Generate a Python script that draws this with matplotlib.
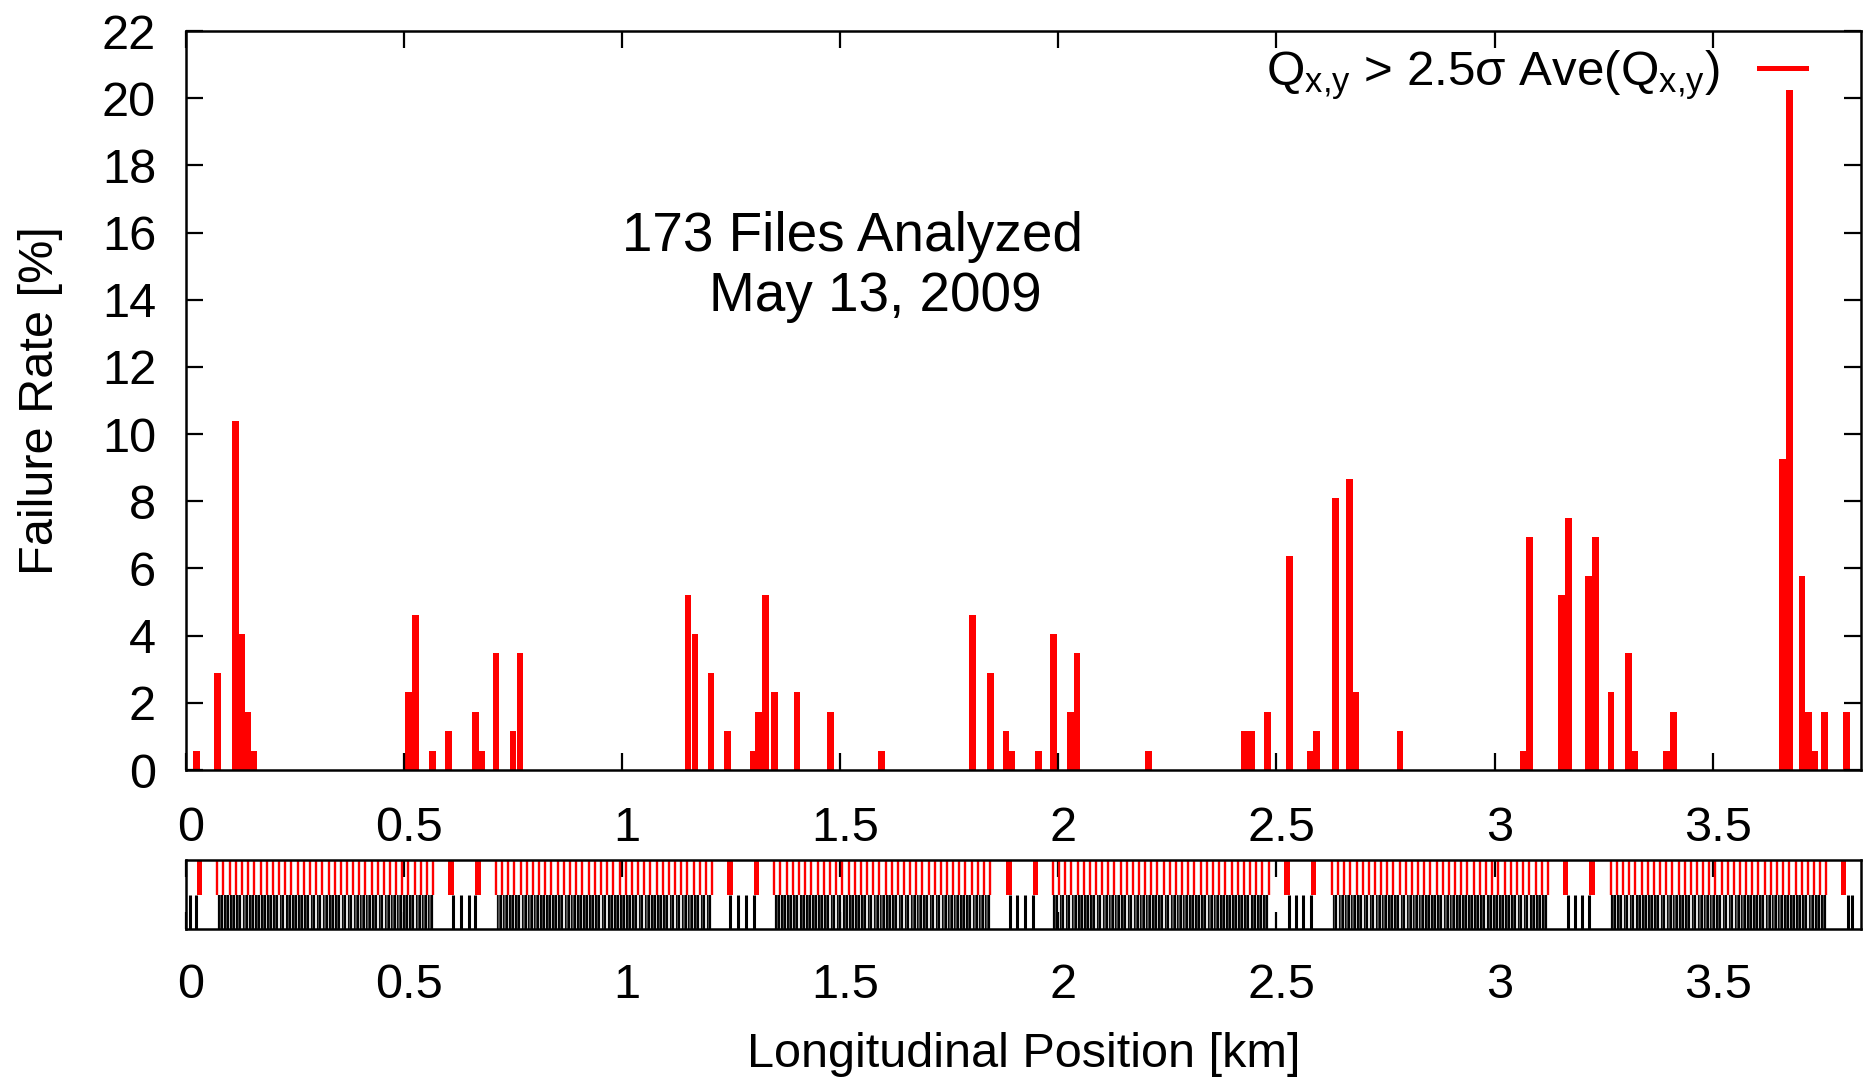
import matplotlib.pyplot as plt
from matplotlib.lines import Line2D
from matplotlib.transforms import ScaledTranslation

plt.rcParams['font.family'] = ['Liberation Sans', 'DejaVu Sans']
plt.rcParams['mathtext.fontset'] = 'custom'
plt.rcParams['mathtext.rm'] = 'Liberation Sans'
plt.rcParams['mathtext.it'] = 'Liberation Sans:italic'

# BPM position [km] and failure rate [%] (173 files)
bpm_pos = [0.025, 0.073, 0.113, 0.128, 0.142, 0.156,
           0.511, 0.526, 0.566, 0.602, 0.664, 0.677, 0.711, 0.750, 0.766,
           1.151, 1.167, 1.204, 1.241, 1.300, 1.313, 1.329, 1.350, 1.401,
           1.477, 1.594, 1.804, 1.844, 1.880, 1.894, 1.954, 1.989, 2.028,
           2.043, 2.207, 2.427, 2.443, 2.479, 2.530, 2.578, 2.592, 2.635,
           2.667, 2.682, 2.783, 3.066, 3.081, 3.153, 3.169, 3.216, 3.231,
           3.267, 3.307, 3.320, 3.394, 3.411, 3.661, 3.677, 3.705, 3.719,
           3.734, 3.757, 3.807]
fail_rate = [0.58, 2.89, 10.40, 4.05, 1.73, 0.58,
             2.31, 4.62, 0.58, 1.16, 1.73, 0.58, 3.47, 1.16, 3.47,
             5.20, 4.05, 2.89, 1.16, 0.58, 1.73, 5.20, 2.31, 2.31,
             1.73, 0.58, 4.62, 2.89, 1.16, 0.58, 0.58, 4.05, 1.73,
             3.47, 0.58, 1.16, 1.16, 1.73, 6.36, 0.58, 1.16, 8.09,
             8.67, 2.31, 1.16, 0.58, 6.94, 5.20, 7.51, 5.78, 6.94,
             2.31, 3.47, 0.58, 0.58, 1.73, 9.25, 20.23, 5.78, 1.73,
             0.58, 1.73, 1.73]

# lattice strip: arc start positions and quad offsets inside one arc [km]
arc_starts = [0.072, 0.711, 1.349, 1.987, 2.627, 3.266]
quad_offsets = [0.000, 0.014, 0.028, 0.042, 0.057, 0.071, 0.085, 0.099, 0.113,
                0.127, 0.141, 0.156, 0.170, 0.184, 0.198, 0.212, 0.226, 0.240,
                0.255, 0.269, 0.283, 0.297, 0.311, 0.325, 0.339, 0.354, 0.368,
                0.382, 0.396, 0.410, 0.424, 0.438, 0.453, 0.467, 0.481, 0.495]
# dipoles inside each half cell, offset from the quad [km]
dip_offsets = [0.0040, 0.0075, 0.0105]
dip_colors = ['black', '#555555', 'black']
# interaction region triplets (red) and magnets (black)
triplet_pos = [0.031, 0.608, 0.670, 1.248, 1.308, 1.887, 1.948,
               2.524, 2.585, 3.163, 3.223, 3.800]
ir_magnets = [0.010, 0.024, 0.613, 0.631, 0.649, 0.663, 1.248, 1.265,
              1.285, 1.303, 1.890, 1.906, 1.923, 1.941, 2.529, 2.544,
              2.561, 2.580, 3.169, 3.184, 3.201, 3.217, 3.810, 3.820]

xticks = [0, 0.5, 1, 1.5, 2, 2.5, 3, 3.5]
xlabels = ['0', '0.5', '1', '1.5', '2', '2.5', '3', '3.5']
yticks = list(range(0, 23, 2))

fig = plt.figure(figsize=(18.63, 10.78), dpi=100)
ax = fig.add_axes([0.0998, 0.2857, 0.8991, 0.6855])
ax2 = fig.add_axes([0.0998, 0.1382, 0.8991, 0.0640])

# main histogram
ax.bar(bpm_pos, fail_rate, width=0.0155, color='red', linewidth=0)
ax.set_xlim(0, 3.84)
ax.set_ylim(0, 22)
ax.set_xticks(xticks)
ax.set_xticklabels(xlabels)
ax.set_yticks(yticks)
ax.tick_params(axis='both', direction='in', length=12, width=1.6,
               labelsize=35, top=True, right=True)
ax.tick_params(axis='x', pad=26)
ax.tick_params(axis='y', pad=21.5)
ax.set_ylabel('Failure Rate [%]', fontsize=35)
ax.yaxis.set_label_coords(-0.0731, 0.5)

ax.text(1.0, 15.45, '173 Files Analyzed', fontsize=39.5, ha='left', va='baseline')
ax.text(1.2, 13.67, 'May 13, 2009', fontsize=39.5, ha='left', va='baseline')

handle = Line2D([], [], color='red', lw=3.6)
ax.legend([handle], [r'Q$_{\mathrm{x{,}y}}$ > 2.5σ Ave(Q$_{\mathrm{x{,}y}}$)'],
          loc='center right', bbox_to_anchor=(0.967, 0.940), fontsize=35.5,
          frameon=False, markerfirst=False, handlelength=0.95,
          handletextpad=0.8, borderpad=0, borderaxespad=0)

# lattice strip
for a in arc_starts:
    qs = [a + q for q in quad_offsets]
    ax2.vlines(qs, 0.5, 1.0, color='red', lw=1.7)
    for off, c in zip(dip_offsets, dip_colors):
        ax2.vlines([q + off for q in qs[:-1]], 0.0, 0.5, color=c, lw=1.6)
ax2.bar(triplet_pos, 0.5, bottom=0.5, width=0.013, color='red', linewidth=0)
ax2.vlines(ir_magnets, 0.0, 0.5, color='black', lw=2.2)
ax2.set_xlim(0, 3.84)
ax2.set_ylim(0, 1)
ax2.set_yticks([])
ax2.set_xticks(xticks)
ax2.set_xticklabels(xlabels)
ax2.tick_params(axis='x', direction='in', length=12, width=1.6,
                labelsize=35, top=True, pad=24.5)
ax2.set_xlabel('Longitudinal Position [km]', fontsize=35)
ax2.xaxis.set_label_coords(0.5, -1.49)

# gnuplot puts the x tick labels a few pixels right of the tick
shift = ScaledTranslation(5 / 100, 0, fig.dpi_scale_trans)
for a_ in (ax, ax2):
    for lab in a_.get_xticklabels():
        lab.set_transform(lab.get_transform() + shift)
    for s in a_.spines.values():
        s.set_linewidth(1.8)

fig.savefig('out.png', dpi=100)
